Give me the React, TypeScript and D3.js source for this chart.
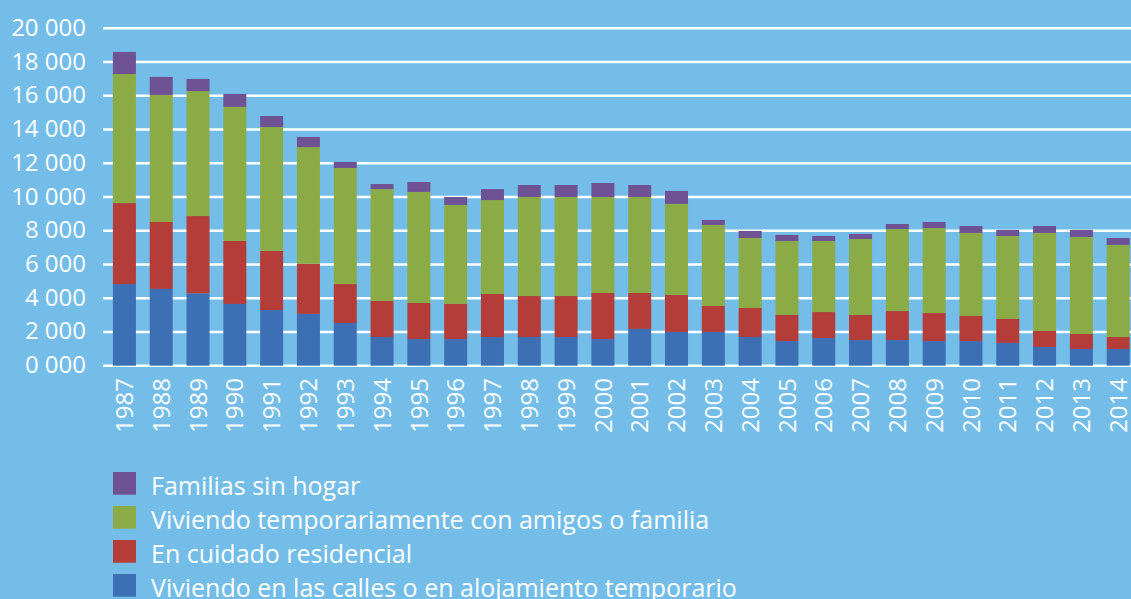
import React from "react";
import * as d3 from "d3";

const years = [
  "1987","1988","1989","1990","1991","1992","1993","1994","1995","1996",
  "1997","1998","1999","2000","2001","2002","2003","2004","2005","2006",
  "2007","2008","2009","2010","2011","2012","2013","2014",
];

// Viviendo en las calles o en alojamiento temporario
const calles = [4840,4550,4290,3660,3300,3070,2530,1700,1580,1580,1700,1700,1700,1580,2180,2000,2000,1700,1460,1640,1520,1520,1460,1460,1350,1110,990,990];
// En cuidado residencial
const residencial = [4800,3970,4580,3740,3510,2970,2310,2140,2140,2080,2550,2430,2430,2730,2130,2190,1540,1720,1550,1540,1490,1720,1660,1490,1420,950,890,710];
// Viviendo temporariamente con amigos o familia
const amigos = [7650,7530,7410,7940,7340,6920,6880,6630,6580,5870,5570,5870,5870,5690,5690,5400,4800,4150,4380,4210,4500,4860,5040,4920,4920,5810,5750,5460];
// Familias sin hogar
const familias = [1310,1070,720,770,650,600,360,300,590,470,650,710,710,830,710,770,300,420,360,300,300,300,360,410,360,410,420,410];

const seriesKeys = ["calles", "residencial", "amigos", "familias"];
const seriesNames: Record<string, string> = {
  familias: "Familias sin hogar",
  amigos: "Viviendo temporariamente con amigos o familia",
  residencial: "En cuidado residencial",
  calles: "Viviendo en las calles o en alojamiento temporario",
};
const legendOrder = ["familias", "amigos", "residencial", "calles"];
const yTicks = [0, 2000, 4000, 6000, 8000, 10000, 12000, 14000, 16000, 18000, 20000];

const colors: Record<string, string> = {
  calles: "#3D6FB4",
  residencial: "#B43D3A",
  amigos: "#8AAB45",
  familias: "#6F5294",
};

const W = 1131;
const H = 599;
const FONT = "'Open Sans', sans-serif";

export default function App() {
  const rows = years.map((y, i) => ({
    year: y,
    calles: calles[i],
    residencial: residencial[i],
    amigos: amigos[i],
    familias: familias[i],
  }));
  const stack = d3.stack<any>().keys(seriesKeys)(rows);

  const x = d3.scaleBand<string>().domain(years).range([106, 1136.6]).paddingInner(0.375).paddingOuter(0.1875);
  const y = d3.scaleLinear().domain([0, 20000]).range([365.7, 28.3]);

  const fmt = (v: number) => `${Math.floor(v / 1000)} 000`;

  return (
    <svg width={W} height={H} style={{ position: "absolute", left: 0, top: 0, display: "block" }}>
      <rect x={0} y={0} width={W} height={H} fill="#74BDE8" />
      {yTicks.map((t) => (
        <g key={t}>
          <line x1={103} x2={W} y1={y(t)} y2={y(t)} stroke="#FFFFFF" strokeWidth={2.6} />
          <text x={86} y={y(t) + 7.5} textAnchor="end" fill="#FFFFFF" fontFamily={FONT} fontSize={24}>
            {fmt(t)}
          </text>
        </g>
      ))}
      {stack.map((s) => (
        <g key={s.key} fill={colors[s.key]}>
          {s.map((d, i) => (
            <rect
              key={i}
              x={x(years[i])}
              width={x.bandwidth()}
              y={y(d[1])}
              height={y(d[0]) - y(d[1])}
            />
          ))}
        </g>
      ))}
      {years.map((yr) => {
        const cx = (x(yr) as number) + x.bandwidth() / 2;
        return (
          <text
            key={yr}
            transform={`translate(${cx},378) rotate(-90)`}
            textAnchor="end"
            dy="0.36em"
            fill="#FFFFFF"
            fontFamily={FONT}
            fontSize={24}
          >
            {yr}
          </text>
        );
      })}
      {legendOrder.map((k, i) => {
        const top = 472 + i * 34;
        return (
          <g key={k}>
            <rect x={113} y={top} width={23} height={22.7} fill={colors[k]} />
            <text x={151} y={top + 23} fill="#FFFFFF" fontFamily={FONT} fontSize={25}>
              {seriesNames[k]}
            </text>
          </g>
        );
      })}
    </svg>
  );
}
